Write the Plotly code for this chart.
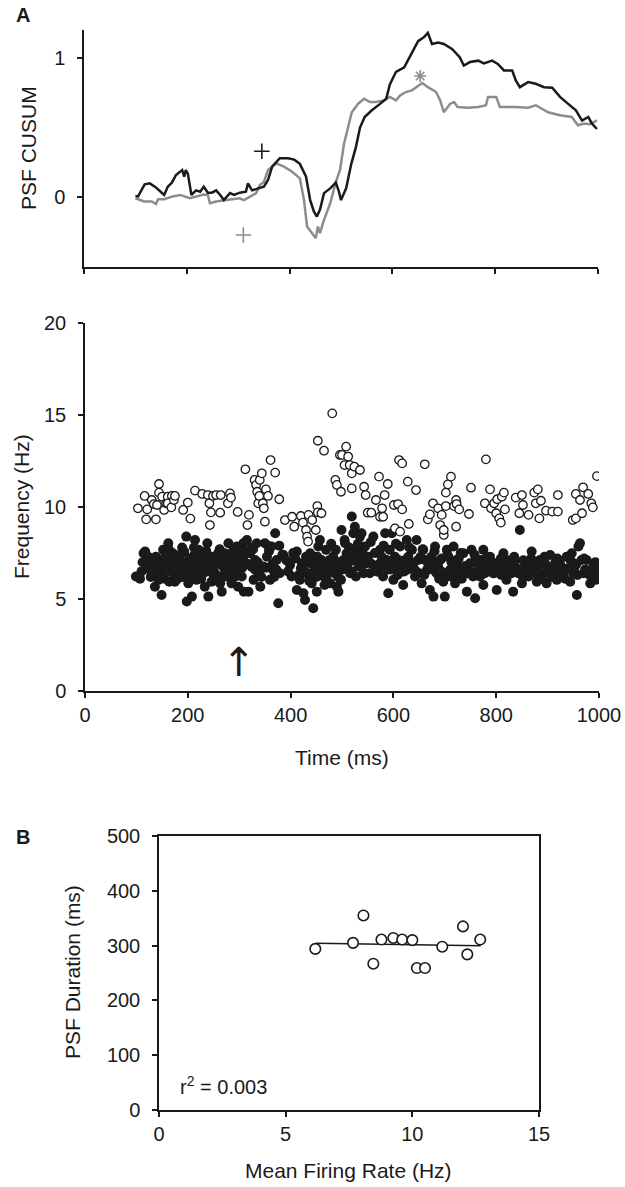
import plotly.graph_objects as go

# ---------------- Panel A (top): PSF CUSUM ----------------
black_t = [100, 105, 118, 128, 140, 152, 156, 163, 171, 179, 185, 191, 195, 198, 202, 209, 218, 226, 233, 241,
           249, 257, 265, 272, 284, 292, 303, 315, 319, 327, 339, 350, 358, 366, 381, 397, 409, 420, 432, 440,
           447, 453, 459, 467, 479, 490, 496, 500, 510, 520, 529, 537, 546, 560, 576, 588, 595, 607, 623, 638,
           650, 661, 669, 677, 689, 700, 716, 731, 739, 751, 767, 778, 794, 805, 817, 833, 840, 848, 864, 879,
           895, 911, 926, 942, 957, 969, 981, 988, 998]
black_v = [0.01, 0.005, 0.093, 0.10, 0.07, 0.03, 0.017, 0.076, 0.105, 0.16, 0.176, 0.195, 0.148, 0.195, 0.17, 0.017, 0.05, 0.04, 0.076, 0.033,
           0.033, 0.05, 0.017, -0.02, 0.03, 0.017, 0.033, 0.04, 0.10, 0.05, 0.064, 0.076, 0.124, 0.22, 0.28, 0.28, 0.27, 0.24, 0.148, -0.02,
           -0.10, -0.138, -0.09, 0.03, 0.064, 0.105, 0.04, -0.02, 0.064, 0.24, 0.36, 0.50, 0.576, 0.624, 0.67, 0.707, 0.81, 0.90, 0.933, 1.04,
           1.12, 1.148, 1.18, 1.10, 1.11, 1.10, 1.064, 1.005, 0.945, 0.97, 0.98, 0.96, 0.98, 0.957, 0.91, 0.91, 0.838, 0.79, 0.826, 0.814,
           0.79, 0.786, 0.72, 0.67, 0.624, 0.55, 0.576, 0.53, 0.49]

gray_t = [100, 117, 132, 140, 144, 156, 171, 187, 206, 218, 233, 241, 245, 257, 272, 288, 303, 311, 323, 335,
          342, 350, 358, 374, 389, 405, 420, 428, 434, 444, 451, 455, 459, 467, 479, 490, 498, 506, 514, 521,
          533, 545, 556, 568, 584, 595, 607, 615, 626, 638, 658, 669, 685, 693, 700, 712, 720, 727, 747, 767,
          782, 786, 802, 809, 840, 864, 879, 903, 926, 949, 961, 973, 984, 998]
gray_v = [-0.007, -0.03, -0.03, -0.048, -0.014, -0.014, 0.005, 0.017, -0.007, 0.005, 0.02, 0.017, -0.043, -0.03, -0.02, -0.014, -0.007, -0.02, 0.005, 0.03,
          0.088, 0.11, 0.195, 0.243, 0.22, 0.183, 0.136, -0.02, -0.21, -0.257, -0.293, -0.21, -0.257, -0.162, -0.043, 0.11, 0.195, 0.386, 0.50, 0.61,
          0.67, 0.707, 0.683, 0.683, 0.695, 0.72, 0.695, 0.73, 0.755, 0.767, 0.82, 0.79, 0.755, 0.695, 0.61, 0.67, 0.683, 0.648, 0.643, 0.648,
          0.66, 0.72, 0.72, 0.648, 0.648, 0.643, 0.66, 0.61, 0.588, 0.576, 0.517, 0.529, 0.524, 0.552]

black_star = (661, 1.22)
black_plus = (346, 0.33)
gray_star = (654, 0.87)
gray_plus = (310, -0.27)

# ---------------- Panel A (bottom): instantaneous frequency ----------------
open_t = [103, 116, 119, 121, 130, 134, 138, 140, 144, 144, 150, 154, 158, 161, 161, 168, 169, 173, 175, 191,
          200, 205, 214, 228, 239, 242, 243, 245, 249, 255, 263, 264, 278, 282, 284, 297, 312, 316, 319, 330,
          333, 335, 337, 339, 340, 344, 346, 348, 350, 352, 356, 361, 370, 378, 389, 403, 407, 420, 424, 430,
          432, 434, 435, 442, 449, 452, 453, 460, 453, 465, 481, 487, 490, 496, 498, 500, 505, 508, 512, 515,
          519, 519, 524, 535, 543, 546, 550, 557, 572, 566, 574, 578, 580, 583, 589, 601, 603, 609, 611, 613,
          617, 617, 628, 630, 644, 661, 667, 671, 677, 687, 691, 694, 698, 698, 702, 702, 706, 712, 718, 722,
          722, 723, 728, 747, 751, 780, 778, 788, 790, 796, 800, 802, 806, 809, 811, 815, 817, 838, 845, 850,
          852, 863, 874, 877, 881, 884, 887, 897, 909, 920, 920, 949, 955, 955, 963, 967, 969, 979, 985, 988,
          996]
open_f = [9.93, 10.6, 9.33, 9.87, 10.38, 10.16, 9.33, 10.11, 11.25, 10.78, 10.56, 9.84, 10.2, 10.56, 10.2, 9.98, 10.6, 10.38, 10.6, 9.84,
          10.24, 9.37, 10.89, 10.71, 10.65, 10.2, 9.02, 9.71, 10.6, 10.65, 9.69, 10.65, 10.2, 10.74, 10.51, 9.73, 12.05, 9.02, 9.57, 11.47,
          11.2, 10.83, 10.2, 10.6, 11.47, 11.83, 10.2, 9.93, 9.2, 10.96, 10.6, 12.55, 11.87, 10.42, 9.29, 9.47, 8.93, 9.51, 9.15, 8.75,
          8.39, 8.12, 9.57, 9.29, 8.75, 10.05, 9.71, 9.66, 13.6, 13.06, 15.09, 11.47, 11.2, 12.83, 10.83, 12.83, 12.28, 13.28, 12.74, 12.28,
          11.83, 11.01, 12.19, 12.01, 11.1, 10.65, 9.69, 9.69, 11.65, 10.38, 9.47, 9.93, 9.47, 10.65, 11.25, 10.11, 8.84, 10.16, 12.55, 8.66,
          12.37, 9.87, 11.38, 9.08, 10.92, 12.32, 9.33, 9.6, 10.2, 9.93, 9.02, 9.57, 8.48, 8.75, 10.05, 10.78, 11.23, 11.65, 10.05, 8.93,
          10.38, 10.16, 9.87, 9.62, 11.05, 12.59, 10.2, 10.96, 9.93, 10.2, 9.66, 10.42, 9.38, 9.15, 10.56, 10.78, 9.87, 10.51, 9.66, 10.65,
          10.11, 9.57, 10.78, 10.2, 10.96, 9.38, 10.34, 9.8, 9.75, 10.65, 9.75, 9.29, 9.38, 10.71, 10.38, 9.66, 11.07, 10.71, 10.2, 9.98,
          11.68]

filled_t = [99, 107, 114, 117, 126, 133, 136, 139, 146, 149, 152, 156, 159, 162, 164, 169, 172, 175, 178, 182,
            188, 191, 195, 197, 198, 201, 204, 208, 211, 214, 217, 221, 224, 227, 230, 233, 238, 240, 243, 246,
            250, 253, 259, 263, 266, 269, 276, 279, 282, 285, 289, 292, 295, 298, 302, 305, 308, 309,
            123, 130, 143, 151, 165, 171, 177, 185, 193, 203, 210, 216, 222, 229, 235, 242, 248, 256, 261, 272,
            274, 287, 296, 303,
            308, 315, 318, 321, 324, 328, 331, 334, 337, 341, 347, 350, 354, 360, 363, 366, 370, 373, 376, 379,
            386, 399, 402, 412, 412, 418, 422, 425, 428, 431, 438, 441, 444, 448, 451, 454, 457, 460, 464, 469,
            473, 477, 483, 486, 490, 493, 496, 499, 503, 506, 509, 516, 519, 522, 525, 529, 532, 535, 538, 542,
            420, 433, 446, 457, 466, 480, 488, 498, 512, 527, 540,
            538, 545, 551, 561, 567, 574, 580, 584, 587, 590, 597, 600, 603, 606, 613, 619, 623, 626, 632, 636,
            642, 645, 648, 655, 658, 665, 671, 674, 678, 681, 684, 691, 697, 700, 704, 710, 717, 720, 723, 730,
            736, 743, 746, 752, 755, 759, 765, 772, 775,
            554, 574, 593, 610, 629, 639, 661, 687, 707, 726, 749, 768,
            772, 775, 781, 788, 794, 801, 807, 814, 820, 827, 833, 837, 843, 846, 850, 856, 863, 869, 872, 879,
            885, 892, 898, 905, 911, 918, 924, 931, 937, 944, 947, 953, 957, 960, 963, 970, 976, 983, 989, 992,
            994,
            778, 798, 817, 840, 866, 895, 921, 940, 966, 979,
            110, 120, 128, 135, 141, 147, 155, 160, 167, 174, 180, 186, 190, 199, 206, 213, 219, 226, 232, 237,
            245, 252, 258, 264, 270, 278, 284, 291, 299, 306,
            312, 317, 325, 330, 336, 343, 352, 358, 365, 372, 378, 392, 405, 416, 426, 436, 442, 450, 455, 462,
            471, 475, 485, 492, 501, 508, 514, 520, 526, 534, 544,
            548, 558, 564, 570, 577, 583, 589, 596, 602, 608, 616, 621, 628, 634, 641, 650, 653, 660, 668, 676,
            683, 689, 694, 702, 713, 715, 727, 733, 740, 750, 757, 762, 770, 785, 791, 804, 810, 823, 830, 848,
            853, 860, 876, 882, 889, 901, 908, 915, 928, 934, 950, 956, 973, 986, 996,
            112, 125, 138, 150, 163, 176, 189, 200, 212, 225, 236, 248, 262, 275, 288, 300, 311, 327, 339, 356,
            368, 384, 395, 409, 430, 440, 452, 467, 479, 495, 505, 518, 531, 546, 556, 568, 581, 594, 605, 617,
            631, 644, 657, 669, 680, 693, 705, 719, 731, 744, 758, 771, 783, 796, 809, 822, 835, 852, 868, 880,
            894, 907, 919, 932, 945, 958, 971, 982, 993]
filled_f = [6.22, 6.1, 7.49, 7.58, 6.94, 6.4, 5.67, 6.76, 6.58, 5.22, 7.67, 7.3, 6.76, 8.03, 5.94, 7.12, 6.4, 5.94, 7.3, 6.76,
            7.49, 6.94, 6.4, 8.39, 4.86, 5.85, 7.21, 5.13, 6.67, 8.21, 6.04, 7.67, 6.94, 7.39, 6.4, 5.67, 8.03, 5.13, 6.76, 5.94,
            7.3, 6.4, 7.49, 5.85, 5.4, 6.76, 7.03, 8.03, 6.4, 5.85, 7.3, 6.67, 7.85, 5.67, 6.94, 6.22, 7.3, 5.4,
            7.3, 6.67, 6.04, 7.12, 6.67, 7.49, 6.22, 6.58, 7.58, 6.22, 7.12, 6.76, 6.31, 6.67, 7.12, 7.3, 6.76, 6.22, 7.12, 7.49,
            6.22, 6.94, 6.49, 7.58,
            8.03, 8.21, 5.4, 7.49, 6.76, 6.04, 7.12, 8.03, 6.4, 5.67, 6.76, 8.03, 7.3, 6.04, 7.85, 6.58, 8.57, 7.12, 4.77, 6.4,
            7.39, 6.85, 6.22, 7.58, 5.49, 6.04, 6.94, 5.31, 4.95, 6.4, 7.49, 5.85, 4.5, 6.76, 5.4, 7.85, 8.21, 7.12, 6.22, 7.67,
            6.76, 5.85, 7.3, 6.4, 5.67, 5.4, 6.76, 8.75, 7.12, 8.03, 7.49, 6.4, 9.48, 8.57, 8.93, 7.67, 6.76, 8.39, 7.12, 6.4,
            6.67, 7.03, 7.3, 6.58, 5.76, 6.94, 7.67, 6.04, 6.94, 6.22, 7.67,
            8.57, 7.85, 7.3, 8.39, 6.76, 7.67, 6.22, 8.57, 7.12, 5.31, 8.57, 6.04, 7.3, 6.58, 7.85, 5.76, 7.12, 8.21, 6.76, 7.67,
            6.22, 8.21, 7.12, 5.85, 7.67, 6.58, 5.49, 7.3, 5.13, 7.85, 6.4, 7.12, 5.94, 5.13, 7.67, 6.58, 7.85, 5.85, 7.12, 6.4,
            7.49, 5.4, 6.76, 7.67, 6.22, 5.04, 7.12, 6.58, 7.67,
            6.4, 6.94, 7.67, 7.12, 7.3, 6.94, 7.12, 6.76, 7.3, 6.76, 6.94, 6.22,
            7.12, 5.76, 6.76, 7.3, 6.4, 5.49, 6.94, 7.49, 6.04, 6.76, 5.4, 7.12, 6.4, 8.75, 5.85, 6.94, 6.22, 7.58, 6.76, 5.94,
            7.12, 6.4, 5.85, 7.39, 6.76, 6.04, 6.94, 6.4, 7.3, 5.94, 7.49, 6.76, 5.22, 7.85, 8.03, 6.4, 7.12, 5.85, 6.76, 6.94,
            6.04,
            6.4, 6.94, 6.67, 6.67, 6.49, 6.94, 6.49, 6.67, 7.12, 6.4,
            6.5, 6.9, 6.2, 7.1, 6.3, 7.0, 6.1, 7.2, 6.5, 6.9, 6.1, 7.1, 6.2, 6.9, 6.5, 7.4, 6.4, 6.1, 7.0, 6.5,
            7.0, 6.8, 6.0, 6.9, 6.3, 6.6, 7.2, 6.2, 7.1, 6.7,
            7.6, 6.9, 7.8, 6.6, 7.0, 6.2, 6.7, 7.6, 6.9, 6.6, 7.9, 7.1, 7.5, 6.3, 6.6, 6.0, 6.9, 6.2, 7.0, 6.8,
            6.3, 7.1, 6.8, 6.2, 6.6, 6.9, 7.8, 7.1, 7.4, 7.3, 6.9,
            7.0, 6.9, 7.5, 6.5, 7.3, 6.8, 6.6, 7.0, 6.7, 6.3, 6.9, 6.5, 6.6, 7.0, 6.6, 6.4, 7.3, 6.3, 6.9, 6.6,
            6.9, 6.1, 7.2, 6.2, 7.0, 6.2, 7.2, 6.1, 6.8, 6.4, 7.0, 6.5, 6.9, 6.6, 7.0, 6.6, 6.3, 7.1, 6.4, 6.5,
            7.1, 6.6, 6.4, 6.8, 6.1, 6.6, 6.2, 7.0, 6.7, 6.1, 6.4, 6.9, 6.6, 6.5, 6.5,
            7.0, 6.6, 7.3, 6.3, 7.7, 6.6, 7.8, 6.5, 7.8, 6.9, 7.6, 6.4, 7.7, 6.5, 7.6, 6.3, 7.0, 7.7, 6.5, 7.9,
            6.2, 7.4, 6.5, 7.2, 7.3, 6.4, 7.3, 6.6, 8.0, 7.0, 8.2, 6.5, 8.0, 7.2, 8.1, 6.5, 7.9, 6.6, 8.0, 6.5,
            7.8, 6.5, 7.7, 6.6, 7.6, 6.5, 7.4, 6.5, 7.5, 6.4, 7.4, 6.3, 7.3, 6.4, 7.2, 6.3, 7.3, 6.2, 7.2, 6.5,
            7.3, 6.5, 7.2, 6.5, 7.1, 6.3, 7.2, 6.3, 7.0]

arrow_time = 300

# ---------------- Panel B ----------------
b_rate = [6.17, 7.66, 8.07, 8.46, 8.78, 9.25, 9.6, 10.0, 10.18, 10.5, 11.18, 12.0, 12.17, 12.68]
b_dur = [294, 305, 355, 267, 311, 314, 311, 310, 259, 259, 298, 335, 284, 311]
fit_rate = [6.2, 12.7]
fit_dur = [304.5, 299.5]
r2_text = "r<sup>2</sup> = 0.003"

FONT = "Liberation Sans, Arial, sans-serif"
INK = "#1a1a1a"
GRAY = "#8c8c8c"

W, H = 625, 1187
def px(x):
    return x / W
def py(y):
    return 1 - y / H

fig = go.Figure()

# Panel A top
fig.add_trace(go.Scatter(x=gray_t, y=gray_v, mode="lines", line=dict(color=GRAY, width=2.5),
                         xaxis="x", yaxis="y", showlegend=False))
fig.add_trace(go.Scatter(x=black_t, y=black_v, mode="lines", line=dict(color=INK, width=2.5),
                         xaxis="x", yaxis="y", showlegend=False))
for (pt, col, sym, sz) in [(black_plus, INK, "cross-thin-open", 11), (gray_plus, GRAY, "cross-thin-open", 11),
                           (black_star, INK, "asterisk-open", 10), (gray_star, GRAY, "asterisk-open", 10)]:
    fig.add_trace(go.Scatter(x=[pt[0]], y=[pt[1]], mode="markers", cliponaxis=False,
                             marker=dict(symbol=sym, size=sz, color=col, line=dict(color=col, width=1.6)),
                             xaxis="x", yaxis="y", showlegend=False))

# Panel A bottom
fig.add_trace(go.Scatter(x=filled_t, y=filled_f, mode="markers",
                         marker=dict(size=10, color=INK, line=dict(width=0)),
                         xaxis="x2", yaxis="y2", showlegend=False))
fig.add_trace(go.Scatter(x=open_t, y=open_f, mode="markers",
                         marker=dict(size=8.5, color="white", line=dict(color=INK, width=1.3)),
                         xaxis="x2", yaxis="y2", showlegend=False))

# Panel B
fig.add_trace(go.Scatter(x=fit_rate, y=fit_dur, mode="lines", line=dict(color=INK, width=1.5),
                         xaxis="x3", yaxis="y3", showlegend=False))
fig.add_trace(go.Scatter(x=b_rate, y=b_dur, mode="markers",
                         marker=dict(size=10.5, color="white", line=dict(color=INK, width=1.6)),
                         xaxis="x3", yaxis="y3", showlegend=False))

axis_common = dict(showline=True, linecolor=INK, linewidth=1.5, ticks="outside", ticklen=5,
                   tickwidth=1.5, tickcolor=INK, showgrid=False, zeroline=False, automargin=False,
                   tickfont=dict(family=FONT, size=20, color=INK))
yaxis_extra = dict(ticklabelstandoff=8)

fig.update_layout(
    template="none",
    width=W, height=H,
    margin=dict(l=0, r=0, t=0, b=0, pad=0),
    paper_bgcolor="white", plot_bgcolor="white",
    font=dict(family=FONT, color=INK),
    xaxis=dict(domain=[px(84), px(598)], range=[0, 1000], tickvals=[0, 200, 400, 600, 800, 1000],
               showticklabels=False, anchor="y", **axis_common),
    yaxis=dict(domain=[py(267), py(30)], range=[-0.5, 1.2], tickvals=[0, 1], anchor="x",
               **axis_common, **yaxis_extra),
    xaxis2=dict(domain=[px(85), px(599)], range=[0, 1000], tickvals=[0, 200, 400, 600, 800, 1000],
                anchor="y2", **axis_common),
    yaxis2=dict(domain=[py(691), py(323)], range=[0, 20], tickvals=[0, 5, 10, 15, 20], anchor="x2",
                **axis_common, **yaxis_extra),
    xaxis3=dict(domain=[px(159), px(539)], range=[0, 15], tickvals=[0, 5, 10, 15], anchor="y3",
                mirror=True, **axis_common),
    yaxis3=dict(domain=[py(1110), py(836)], range=[0, 500], tickvals=[0, 100, 200, 300, 400, 500],
                anchor="x3", mirror=True, **axis_common, **yaxis_extra),
)

title_font = dict(family=FONT, size=21, color=INK)
fig.add_annotation(text="PSF CUSUM", xref="paper", yref="paper", x=px(28), y=py(148),
                   textangle=-90, showarrow=False, font=title_font, xanchor="center", yanchor="middle")
fig.add_annotation(text="Frequency (Hz)", xref="paper", yref="paper", x=px(21), y=py(507),
                   textangle=-90, showarrow=False, font=title_font, xanchor="center", yanchor="middle")
fig.add_annotation(text="Time (ms)", xref="paper", yref="paper", x=px(342), y=py(757),
                   showarrow=False, font=title_font, xanchor="center", yanchor="middle")
fig.add_annotation(text="PSF Duration (ms)", xref="paper", yref="paper", x=px(72), y=py(972),
                   textangle=-90, showarrow=False, font=title_font, xanchor="center", yanchor="middle")
fig.add_annotation(text="Mean Firing Rate (Hz)", xref="paper", yref="paper", x=px(348), y=py(1170),
                   showarrow=False, font=title_font, xanchor="center", yanchor="middle")
fig.add_annotation(text=r2_text, xref="x3", yref="y3", x=0.75, y=45,
                   showarrow=False, font=dict(family=FONT, size=20, color=INK), xanchor="left", yanchor="middle")
fig.add_annotation(text="<b>A</b>", xref="paper", yref="paper", x=px(23), y=py(15),
                   showarrow=False, font=dict(family=FONT, size=20, color=INK), xanchor="center", yanchor="middle")
fig.add_annotation(text="<b>B</b>", xref="paper", yref="paper", x=px(23), y=py(837),
                   showarrow=False, font=dict(family=FONT, size=20, color=INK), xanchor="center", yanchor="middle")
fig.add_annotation(text="\u2191", xref="x2", yref="y2", x=arrow_time, y=1.55,
                   showarrow=False, font=dict(family="DejaVu Sans", size=40, color=INK),
                   xanchor="center", yanchor="middle")

fig.write_html("out.html", config={"displayModeBar": False},
               post_script="document.body.style.margin='0';document.body.style.overflow='hidden';")
